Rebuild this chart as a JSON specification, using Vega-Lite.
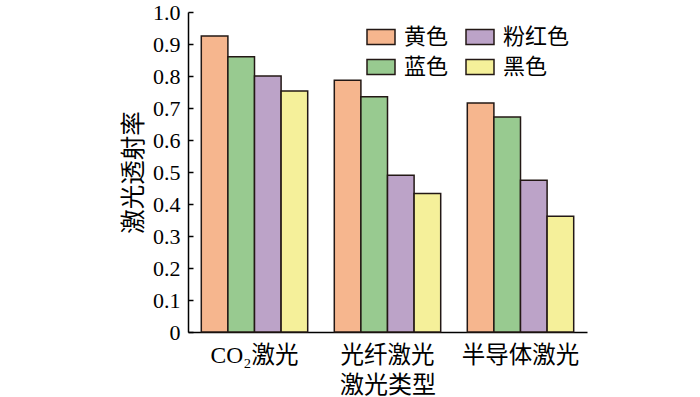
{
  "$schema": "https://vega.github.io/schema/vega-lite/v6.json",
  "autosize": "none",
  "padding": {"left": 188, "top": 12, "right": 113, "bottom": 65},
  "width": 399,
  "height": 320,
  "background": "white",
  "config": {
    "view": {"stroke": null},
    "font": "Liberation Serif, Noto Sans CJK SC",
    "axis": {"labelFont": "Liberation Serif, Noto Sans CJK SC", "titleFont": "Liberation Serif, Noto Sans CJK SC", "labelColor": "black", "titleColor": "black", "titleFontWeight": "normal", "domainColor": "black", "tickColor": "black", "domainWidth": 1.5, "tickWidth": 1.5, "grid": false},
    "legend": {"labelFont": "Liberation Serif, Noto Sans CJK SC", "labelColor": "black"}
  },
  "data": {
    "values": [
      {"type": "CO₂激光", "color": "黄色", "value": 0.925},
      {"type": "CO₂激光", "color": "蓝色", "value": 0.86},
      {"type": "CO₂激光", "color": "粉红色", "value": 0.80},
      {"type": "CO₂激光", "color": "黑色", "value": 0.753},
      {"type": "光纤激光", "color": "黄色", "value": 0.787},
      {"type": "光纤激光", "color": "蓝色", "value": 0.735},
      {"type": "光纤激光", "color": "粉红色", "value": 0.49},
      {"type": "光纤激光", "color": "黑色", "value": 0.433},
      {"type": "半导体激光", "color": "黄色", "value": 0.716},
      {"type": "半导体激光", "color": "蓝色", "value": 0.672},
      {"type": "半导体激光", "color": "粉红色", "value": 0.474},
      {"type": "半导体激光", "color": "黑色", "value": 0.362}
    ]
  },
  "mark": {"type": "bar", "stroke": "#231815", "strokeWidth": 1.5},
  "encoding": {
    "x": {
      "field": "type", "type": "nominal", "sort": ["CO₂激光", "光纤激光", "半导体激光"],
      "scale": {"paddingInner": 0.2, "paddingOuter": 0.1},
      "axis": {"title": "激光类型", "labelAngle": 0, "ticks": false, "labelPadding": 11, "labelFontSize": 23.5, "titleFontSize": 24, "titlePadding": 7}
    },
    "xOffset": {
      "field": "color", "type": "nominal", "sort": ["黄色", "蓝色", "粉红色", "黑色"],
      "scale": {"paddingInner": 0, "paddingOuter": 0}
    },
    "y": {
      "field": "value", "type": "quantitative",
      "scale": {"domain": [0, 1], "nice": false},
      "axis": {"title": "激光透射率", "values": [0, 0.1, 0.2, 0.3, 0.4, 0.5, 0.6, 0.7, 0.8, 0.9, 1.0], "labelExpr": "datum.value == 0 ? '0' : format(datum.value, '.1f')", "tickSize": -5, "labelPadding": 13, "labelFontSize": 22, "titleFontSize": 24.5, "titlePadding": 6}
    },
    "color": {
      "field": "color", "type": "nominal", "sort": ["黄色", "蓝色", "粉红色", "黑色"],
      "scale": {"domain": ["黄色", "蓝色", "粉红色", "黑色"], "range": ["#F6B68E", "#98CA90", "#BCA3C8", "#F5F09A"]},
      "legend": {
        "title": null, "orient": "none", "legendX": 178, "legendY": 10, "direction": "horizontal", "columns": 2,
        "values": ["黄色", "粉红色", "蓝色", "黑色"],
        "symbolType": "M-1,-0.53H1V0.53H-1Z", "symbolSize": 784, "symbolStrokeColor": "#231815", "symbolStrokeWidth": 1.5, "symbolOpacity": 1,
        "labelFontSize": 22, "labelOffset": 8, "columnPadding": 14, "rowPadding": 4, "symbolLimit": 0
      }
    }
  }
}
